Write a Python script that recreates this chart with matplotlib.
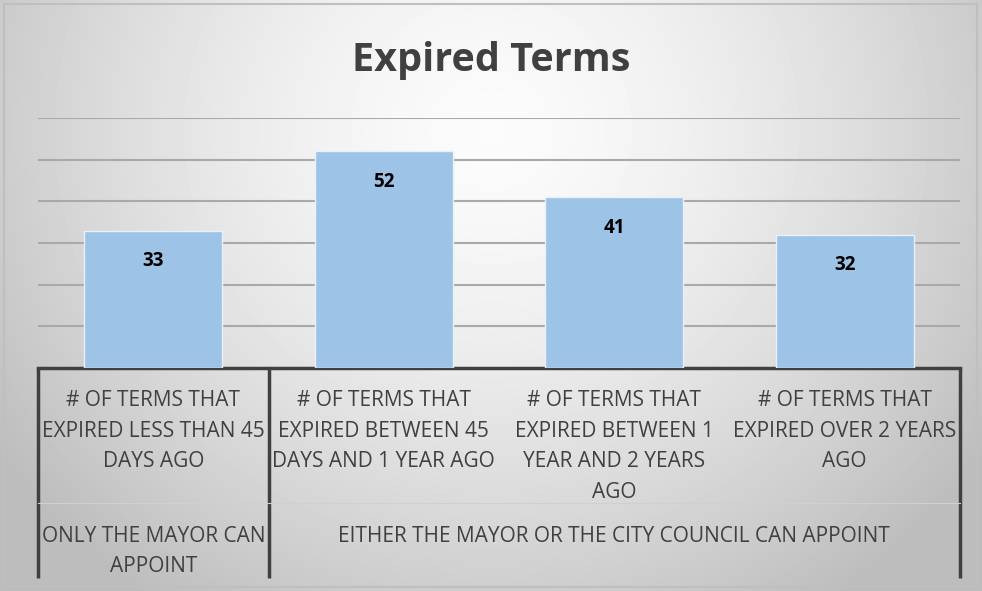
import numpy as np
import matplotlib
matplotlib.use("Agg")
import matplotlib.pyplot as plt
from matplotlib.patches import Rectangle

# data
categories = [
    "# OF TERMS THAT\nEXPIRED LESS THAN 45\nDAYS AGO",
    "# OF TERMS THAT\nEXPIRED BETWEEN 45\nDAYS AND 1 YEAR AGO",
    "# OF TERMS THAT\nEXPIRED BETWEEN 1\nYEAR AND 2 YEARS\nAGO",
    "# OF TERMS THAT\nEXPIRED OVER 2 YEARS\nAGO",
]
values = [33, 52, 41, 32]
groups = ["ONLY THE MAYOR CAN\nAPPOINT", "EITHER THE MAYOR OR THE CITY COUNCIL CAN APPOINT"]
group_spans = [(0, 0), (1, 3)]

W, H = 982, 591
plt.rcParams['font.family'] = ['Open Sans', 'DejaVu Sans']
fig = plt.figure(figsize=(W / 100, H / 100), dpi=100)

# radial gradient background
bg = fig.add_axes([0, 0, 1, 1], zorder=-10)
yy, xx = np.mgrid[0:H, 0:W]
r = np.sqrt(((xx - W * 0.5) / (W * 0.6)) ** 2 + ((yy - H * 0.22) / (H * 0.95)) ** 2)
shade = np.clip(0.985 - 0.24 * r ** 1.5, 0.74, 1)
bg.imshow(shade, cmap="gray", vmin=0, vmax=1, extent=[0, W, H, 0], aspect="auto")
bg.add_patch(Rectangle((4, 4), W - 9, H - 8, fill=False, ec="#bfbfbf", lw=1.5))
bg.set_xlim(0, W)
bg.set_ylim(H, 0)
bg.axis("off")

# main plot area (pixels: x 38..960, y 118..368)
left, right, top, bottom = 38, 960, 118, 368
ax = fig.add_axes([left / W, 1 - bottom / H, (right - left) / W, (bottom - top) / H])
ax.patch.set_alpha(0)
x = np.arange(len(values))
ax.bar(x, values, width=0.6, color="#9dc3e6", edgecolor="#e8f0f8", lw=1, zorder=3)
ax.set_xlim(-0.5, len(values) - 0.5)
ax.set_ylim(0, 60)
ax.set_yticks(range(10, 61, 10))
ax.grid(axis="y", color="#a9a9a9", lw=1.5, zorder=0)
ax.tick_params(left=False, labelleft=False, bottom=False, labelbottom=False)
for s in ["top", "right", "left"]:
    ax.spines[s].set_visible(False)
ax.spines["bottom"].set_color("#404040")
ax.spines["bottom"].set_linewidth(2.5)

for i, v in enumerate(values):
    ax.annotate(str(v), (i, v), xytext=(0, -22), textcoords="offset points",
                ha="center", va="center", fontsize=13.5, fontweight="bold", color="black")

# multi-level category axis
px = 1.0 / (bottom - top)  # one pixel in axes units
trans = ax.get_xaxis_transform()
for xd in [-0.5, 0.5, len(values) - 0.5]:
    ax.plot([xd, xd], [0, -(578 - bottom) * px], transform=trans, color="#404040",
            lw=2.5, clip_on=False, solid_capstyle="butt")
ax.plot([-0.5, len(values) - 0.5], [-(503 - bottom) * px] * 2, transform=trans,
        color="#d0d0d0", lw=0.8, clip_on=False)

for i, c in enumerate(categories):
    ax.text(i, -(390 - bottom) * px, c, transform=trans, ha="center", va="top",
            fontsize=15, color="#404040", linespacing=1.6, clip_on=False)
for g, (a, b) in zip(groups, group_spans):
    ax.text((a + b) / 2, -(525.5 - bottom) * px, g, transform=trans, ha="center", va="top",
            fontsize=15, color="#404040", linespacing=1.6, clip_on=False)

fig.text(0.5, 1 - 61 / H, "Expired Terms", ha="center", va="center",
         fontsize=28.5, fontweight="bold", color="#404040")

fig.savefig("out.png", dpi=100)
